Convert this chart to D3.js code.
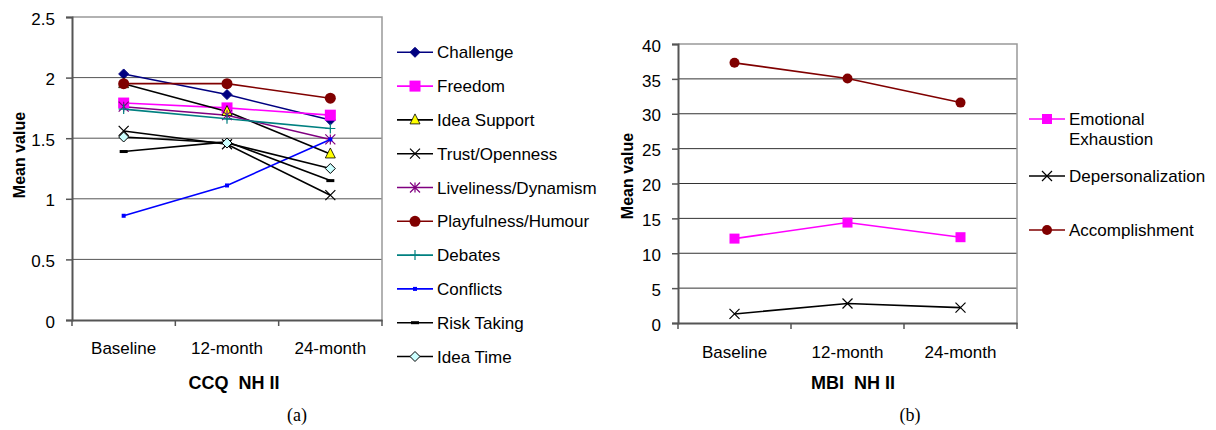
<!DOCTYPE html>
<html>
<head>
<script src="https://d3js.org/d3.v7.min.js"></script>
<style>
  body { margin: 0; background: #fff; }
  svg { font-family: "Liberation Sans", Arial, sans-serif; }
</style>
</head>
<body>
<svg id="chart" width="1216" height="430"></svg>
<script>
// Data
const periods = ['Baseline', '12-month', '24-month'];

const ccqNames = ['Challenge', 'Freedom', 'Idea Support', 'Trust/Openness', 'Liveliness/Dynamism',
  'Playfulness/Humour', 'Debates', 'Conflicts', 'Risk Taking', 'Idea Time'];
const ccqValues = [
  [2.03, 1.86, 1.65],
  [1.79, 1.75, 1.69],
  [1.95, 1.72, 1.37],
  [1.56, 1.45, 1.03],
  [1.76, 1.69, 1.49],
  [1.95, 1.95, 1.83],
  [1.74, 1.66, 1.58],
  [0.86, 1.11, 1.49],
  [1.39, 1.47, 1.15],
  [1.51, 1.46, 1.25]
];
const ccqTicks = [0, 0.5, 1, 1.5, 2, 2.5];

const mbiNames = ['Emotional Exhaustion', 'Depersonalization', 'Accomplishment'];
const mbiValues = [
  [12.1, 14.4, 12.3],
  [1.3, 2.8, 2.2],
  [37.3, 35.05, 31.6]
];
const mbiTicks = [0, 5, 10, 15, 20, 25, 30, 35, 40];

// styles per series
const ccqStyle = [
  { line: '#000080', marker: 'diamond', fill: '#000080', stroke: '#000080', size: 5 },
  { line: '#FF00FF', marker: 'square', fill: '#FF00FF', stroke: '#FF00FF', size: 5.5 },
  { line: '#000000', marker: 'triangle', fill: '#FFFF00', stroke: '#000000', size: 5 },
  { line: '#000000', marker: 'x', fill: 'none', stroke: '#000000', size: 5 },
  { line: '#800080', marker: 'star', fill: 'none', stroke: '#800080', size: 5 },
  { line: '#800000', marker: 'circle', fill: '#800000', stroke: '#800000', size: 5.5 },
  { line: '#008080', marker: 'plus', fill: 'none', stroke: '#008080', size: 5 },
  { line: '#0000FF', marker: 'smallsq', fill: '#0000FF', stroke: '#0000FF', size: 2 },
  { line: '#000000', marker: 'dash', fill: 'none', stroke: '#000000', size: 4 },
  { line: '#000000', marker: 'diamond', fill: '#CCFFFF', stroke: '#000000', size: 5 }
];
const mbiStyle = [
  { line: '#FF00FF', marker: 'square', fill: '#FF00FF', stroke: '#FF00FF', size: 5 },
  { line: '#000000', marker: 'x', fill: 'none', stroke: '#000000', size: 5 },
  { line: '#800000', marker: 'circle', fill: '#800000', stroke: '#800000', size: 5 }
];

const svg = d3.select('#chart');

function drawMarker(g, st, x, y) {
  const s = st.size;
  if (st.marker === 'diamond') {
    g.append('path').attr('d', `M${x},${y - s}L${x + s},${y}L${x},${y + s}L${x - s},${y}Z`)
      .attr('fill', st.fill).attr('stroke', st.stroke).attr('stroke-width', 1);
  } else if (st.marker === 'square' || st.marker === 'smallsq') {
    g.append('rect').attr('x', x - s).attr('y', y - s).attr('width', 2 * s).attr('height', 2 * s)
      .attr('fill', st.fill);
  } else if (st.marker === 'triangle') {
    g.append('path').attr('d', `M${x},${y - s - 1}L${x + s},${y + s - 1}L${x - s},${y + s - 1}Z`)
      .attr('fill', st.fill).attr('stroke', st.stroke).attr('stroke-width', 0.8);
  } else if (st.marker === 'x') {
    g.append('path').attr('d', `M${x - s},${y - s}L${x + s},${y + s}M${x - s},${y + s}L${x + s},${y - s}`)
      .attr('stroke', st.stroke).attr('stroke-width', 1.2);
  } else if (st.marker === 'star') {
    g.append('path').attr('d', `M${x - s},${y - s}L${x + s},${y + s}M${x - s},${y + s}L${x + s},${y - s}M${x},${y - s}L${x},${y + s}`)
      .attr('stroke', st.stroke).attr('stroke-width', 1.2);
  } else if (st.marker === 'circle') {
    g.append('circle').attr('cx', x).attr('cy', y).attr('r', s).attr('fill', st.fill);
  } else if (st.marker === 'plus') {
    g.append('path').attr('d', `M${x - s},${y}L${x + s},${y}M${x},${y - s}L${x},${y + s}`)
      .attr('stroke', st.stroke).attr('stroke-width', 1.2);
  } else if (st.marker === 'dash') {
    g.append('rect').attr('x', x - s).attr('y', y - 1.5).attr('width', 2 * s).attr('height', 3)
      .attr('fill', st.stroke);
  }
}

function drawPanel(cfg) {
  const x = d3.scaleBand().domain(periods).range([cfg.left, cfg.right]);
  const y = d3.scaleLinear().domain([0, cfg.max]).range([cfg.bottom, cfg.top]);
  const cx = d => x(d) + x.bandwidth() / 2;

  // gridlines
  svg.append('g').selectAll('line').data(cfg.ticks.slice(1, -1)).join('line')
    .attr('x1', cfg.left).attr('x2', cfg.right)
    .attr('y1', d => y(d)).attr('y2', d => y(d))
    .attr('stroke', cfg.grid).attr('stroke-width', 1);
  // plot border top/right
  svg.append('path')
    .attr('d', `M${cfg.left},${cfg.top}H${cfg.right}V${cfg.bottom}`)
    .attr('fill', 'none').attr('stroke', '#999').attr('stroke-width', 1.5);

  // y axis
  const ya = svg.append('g').attr('transform', `translate(${cfg.left},0)`)
    .call(d3.axisLeft(y).tickValues(cfg.ticks).tickSize(6).tickPadding(11).tickFormat(d3.format('')));
  ya.select('.domain').attr('stroke', '#555').attr('stroke-width', 2);
  ya.selectAll('.tick line').attr('stroke', '#555').attr('stroke-width', 1.5);
  ya.selectAll('text').attr('font-size', 17).attr('fill', '#000').attr('dy', '0.42em')
    .attr('font-family', '"Liberation Sans", Arial, sans-serif');

  // x axis
  const xa = svg.append('g').attr('transform', `translate(0,${cfg.bottom})`)
    .call(d3.axisBottom(x).tickSize(0).tickPadding(cfg.xPad));
  xa.select('.domain').attr('stroke', '#555').attr('stroke-width', 2);
  xa.selectAll('text').attr('font-size', 17).attr('fill', '#000')
    .attr('font-family', '"Liberation Sans", Arial, sans-serif');
  svg.append('g').selectAll('line').data(periods).join('line')
    .attr('x1', d => x(d)).attr('x2', d => x(d))
    .attr('y1', cfg.bottom).attr('y2', cfg.bottom + 6)
    .attr('stroke', '#555').attr('stroke-width', 1.5);
  svg.append('line').attr('x1', cfg.right).attr('x2', cfg.right)
    .attr('y1', cfg.bottom).attr('y2', cfg.bottom + 6)
    .attr('stroke', '#555').attr('stroke-width', 1.5);

  // series
  cfg.values.forEach((vals, i) => {
    const st = cfg.styles[i];
    const line = d3.line().x((d, j) => cx(periods[j])).y(d => y(d));
    svg.append('path').attr('d', line(vals)).attr('fill', 'none')
      .attr('stroke', st.line).attr('stroke-width', 1.6);
  });
  cfg.values.forEach((vals, i) => {
    const g = svg.append('g');
    vals.forEach((v, j) => drawMarker(g, cfg.styles[i], cx(periods[j]), y(v)));
  });

  // axis titles
  svg.append('text')
    .attr('transform', `translate(${cfg.ytitleX},${cfg.ytitleY}) rotate(-90)`)
    .attr('text-anchor', 'middle').attr('font-size', 16).attr('font-weight', 'bold')
    .text('Mean value');
  svg.append('text').attr('x', cfg.xtitleX).attr('y', cfg.xtitleY)
    .attr('text-anchor', 'middle').attr('font-size', 18).attr('font-weight', 'bold')
    .attr('xml:space', 'preserve').text(cfg.xtitle);
  svg.append('text').attr('x', cfg.labelX).attr('y', 421)
    .attr('text-anchor', 'middle').attr('font-size', 18)
    .attr('font-family', '"Liberation Serif", "Times New Roman", serif')
    .text(cfg.label);

  // legend
  const lg = svg.append('g');
  cfg.names.forEach((name, i) => {
    const st = cfg.styles[i];
    const ly = cfg.legendY[i];
    lg.append('line').attr('x1', cfg.legendX).attr('x2', cfg.legendX + 36)
      .attr('y1', ly).attr('y2', ly).attr('stroke', st.line).attr('stroke-width', 1.6);
    drawMarker(lg, st, cfg.legendX + 18, ly);
    const lines = cfg.wrap && cfg.wrap[i] ? cfg.wrap[i] : [name];
    lines.forEach((t, k) => {
      lg.append('text').attr('x', cfg.legendX + 40).attr('y', ly + 6 + k * 20)
        .attr('font-size', 17).text(t);
    });
  });
}

drawPanel({
  left: 72, right: 382, top: 17, bottom: 320, max: 2.5, ticks: ccqTicks,
  values: ccqValues, styles: ccqStyle, names: ccqNames, grid: '#555', xPad: 22,
  ytitleX: 25, ytitleY: 155, xtitleX: 234, xtitleY: 389, xtitle: 'CCQ  NH II',
  label: '(a)', labelX: 297,
  legendX: 397, legendY: ccqNames.map((d, i) => 52.3 + i * 33.8)
});

drawPanel({
  left: 678, right: 1017, top: 44, bottom: 323, max: 40, ticks: mbiTicks,
  values: mbiValues, styles: mbiStyle, names: mbiNames, grid: '#333', xPad: 23,
  ytitleX: 633, ytitleY: 176, xtitleX: 853, xtitleY: 389, xtitle: 'MBI  NH II',
  label: '(b)', labelX: 910,
  legendX: 1029, legendY: [119, 176, 230],
  wrap: [['Emotional', 'Exhaustion'], null, null]
});
</script>
</body>
</html>
